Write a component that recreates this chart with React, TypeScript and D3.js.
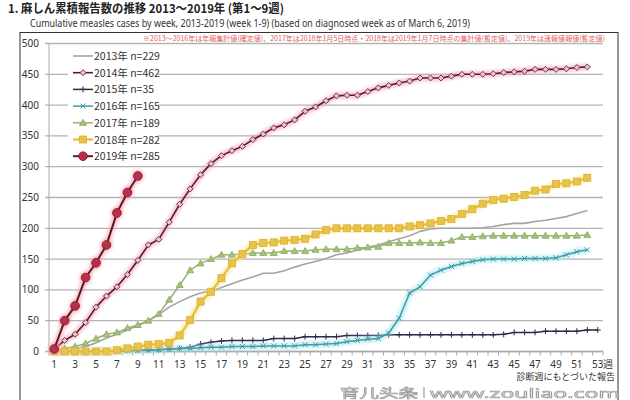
import React from "react";
import * as d3 from "d3";

const weeks52 = d3.range(1, 53);
const weeks53 = d3.range(1, 54);
const weeks9 = d3.range(1, 10);

const y2013 = [0,2,4,8,14,22,28,35,42,50,60,72,81,89,95,98,104,110,116,121,127,127,131,137,142,146,151,157,160,165,169,173,178,183,188,195,199,200,200,200,200,201,203,206,208,208,211,213,216,219,224,229];
const y2014 = [4,18,28,47,72,90,105,125,148,173,182,210,239,264,287,305,318,326,333,344,353,363,368,376,390,397,407,415,416,416,422,428,432,436,439,444,444,444,447,450,450,450,451,453,454,455,458,458,458,459,461,462];
const y2015 = [0,0,0,0,0,1,1,2,2,3,3,4,5,7,12,15,17,18,18,18,18,21,21,21,24,24,24,24,26,26,26,26,27,27,27,27,27,27,27,27,27,27,27,28,31,31,31,33,33,33,33,35,35];
const y2016 = [0,0,0,0,1,1,1,1,2,2,3,4,5,5,6,7,7,8,8,8,9,9,9,9,11,11,12,13,16,18,20,21,30,54,95,105,124,132,138,143,146,149,150,150,150,151,151,151,152,157,162,165];
const y2017 = [0,5,8,13,21,28,31,38,43,50,61,84,108,132,143,150,157,157,158,160,160,160,163,163,163,165,166,166,166,168,169,170,176,176,176,177,176,176,180,186,186,187,188,188,188,188,188,188,188,188,188,189];
const y2018 = [0,0,0,0,0,0,2,5,8,11,12,14,26,51,81,97,119,143,158,173,176,177,180,181,183,190,197,200,200,200,200,200,200,200,203,205,208,212,215,223,231,240,246,248,251,254,261,263,272,273,276,282];
const y2019 = [4,50,74,120,144,173,225,258,285];

const legendLabels = ["2013年 n=229","2014年 n=462","2015年 n=35","2016年 n=165","2017年 n=189","2018年 n=282","2019年 n=285"];
const yTicks = [0,50,100,150,200,250,300,350,400,450,500];
const xTickLabels = d3.range(1, 54, 2);

const titleText = "1. 麻しん累積報告数の推移  2013～2019年 (第1～9週)";
const subtitleText = "Cumulative measles cases by week, 2013-2019 (week 1-9)  (based on diagnosed week as of March 6, 2019)";
const noteText = "※2013～2016年は年報集計値(確定値)、2017年は2018年1月5日時点・2018年は2019年1月7日時点の集計値(暫定値)、2019年は速報値報値(暫定値)";
const footText = "診断週にもとづいた報告";
const weekUnit = "週";
const watermarkCn = "育儿头条";
const watermarkUrl = "www.zouliao.com";

const W = 630, H = 400;
const x = d3.scaleLinear().domain([0.5, 53.5]).range([49, 603]);
const y = d3.scaleLinear().domain([0, 500]).range([351.5, 43.5]);

type S = { key: string; weeks: number[]; vals: number[]; color: string; width: number; glow?: string; marker: string; mfill: string; mstroke: string };

const series: S[] = [
  { key: "2013", weeks: weeks52, vals: y2013, color: "#a3a3a3", width: 1.6, marker: "none", mfill: "", mstroke: "" },
  { key: "2014", weeks: weeks52, vals: y2014, color: "#5a1b2c", width: 1.6, glow: "#f2a0b4", marker: "diamond", mfill: "#ecc4cc", mstroke: "#6a2436" },
  { key: "2015", weeks: weeks53, vals: y2015, color: "#2e2a4c", width: 1.5, marker: "plus", mfill: "none", mstroke: "#2e2a4c" },
  { key: "2016", weeks: weeks52, vals: y2016, color: "#3a9ea8", width: 1.5, glow: "#a8e4ec", marker: "x", mfill: "none", mstroke: "#3a9ea8" },
  { key: "2017", weeks: weeks52, vals: y2017, color: "#96b46a", width: 1.5, marker: "triangle", mfill: "#a8c07c", mstroke: "#8aa860" },
  { key: "2018", weeks: weeks52, vals: y2018, color: "#e6bf3a", width: 2.2, glow: "#f8e07a", marker: "square", mfill: "#e8c24a", mstroke: "#dcb030" },
  { key: "2019", weeks: weeks9, vals: y2019, color: "#5e1a22", width: 2, glow: "#f5a0b0", marker: "circle", mfill: "#b82f48", mstroke: "#8e1f34" },
];

function Marker({ s, cx, cy }: { s: S; cx: number; cy: number }) {
  switch (s.marker) {
    case "diamond":
      return <path d={`M${cx},${cy - 3}L${cx + 3},${cy}L${cx},${cy + 3}L${cx - 3},${cy}Z`} fill={s.mfill} stroke={s.mstroke} strokeWidth={0.9} />;
    case "plus":
      return <path d={`M${cx - 3},${cy}H${cx + 3}M${cx},${cy - 3}V${cy + 3}`} stroke={s.mstroke} strokeWidth={1} />;
    case "x":
      return <path d={`M${cx - 2.5},${cy - 2.5}L${cx + 2.5},${cy + 2.5}M${cx - 2.5},${cy + 2.5}L${cx + 2.5},${cy - 2.5}`} stroke={s.mstroke} strokeWidth={1} />;
    case "triangle":
      return <path d={`M${cx},${cy - 3.5}L${cx + 3.5},${cy + 2.5}L${cx - 3.5},${cy + 2.5}Z`} fill={s.mfill} stroke={s.mstroke} strokeWidth={0.8} />;
    case "square":
      return <rect x={cx - 3.5} y={cy - 3.5} width={7} height={7} fill={s.mfill} stroke={s.mstroke} strokeWidth={0.8} />;
    case "circle":
      return <circle cx={cx} cy={cy} r={4.3} fill={s.mfill} stroke={s.mstroke} strokeWidth={1} />;
    default:
      return null;
  }
}

function Series({ s }: { s: S }) {
  const line = d3.line<number>().x((_, i) => x(s.weeks[i])).y((v) => y(v));
  const d = line(s.vals) || "";
  return (
    <g>
      {s.glow && <path d={d} fill="none" stroke={s.glow} strokeWidth={7} strokeOpacity={0.55} filter="url(#blur)" strokeLinejoin="round" />}
      {s.glow && s.marker === "circle" && s.vals.map((v, i) => <circle key={i} cx={x(s.weeks[i])} cy={y(v)} r={6.5} fill={s.glow} opacity={0.6} filter="url(#blur)" />)}
      <path d={d} fill="none" stroke={s.color} strokeWidth={s.width} strokeLinejoin="round" />
      {s.marker !== "none" && s.vals.map((v, i) => <Marker key={i} s={s} cx={x(s.weeks[i])} cy={y(v)} />)}
    </g>
  );
}

function LegendSymbol({ s, cy }: { s: S; cy: number }) {
  return (
    <g>
      {s.glow && <path d={`M73,${cy}H93`} stroke={s.glow} strokeWidth={7} strokeOpacity={0.55} filter="url(#blur)" />}
      <path d={`M73,${cy}H93`} stroke={s.color} strokeWidth={s.width} />
      {s.marker !== "none" && <Marker s={s} cx={83} cy={cy} />}
    </g>
  );
}

export default function App() {
  const font = "'Noto Sans', 'Noto Sans CJK JP', sans-serif";
  const jp = "'Noto Sans CJK JP', sans-serif";
  return (
    <svg width={W} height={H} style={{ position: "absolute", left: 0, top: 0, background: "#fff" }} fontFamily={font}>
      <defs>
        <filter id="blur" x="-20%" y="-20%" width="140%" height="140%">
          <feGaussianBlur stdDeviation={1.6} />
        </filter>
      </defs>
      <rect x={0} y={0} width={W} height={H} fill="#fff" />
      <text x={8} y={13} fontFamily={jp} fontWeight={700} fontSize={12} fill="#222" textLength={276} lengthAdjust="spacingAndGlyphs">{titleText}</text>
      <text x={30} y={26.5} fontFamily={font} fontSize={10} fill="#333" textLength={440} lengthAdjust="spacingAndGlyphs">{subtitleText}</text>
      <rect x={20} y={32.5} width={598} height={370} fill="none" stroke="#333" strokeWidth={1} />
      <text x={143} y={40.5} fontFamily={jp} fontSize={7} fill="#e06060" textLength={462} lengthAdjust="spacingAndGlyphs">{noteText}</text>

      {yTicks.map((t) => (
        <g key={t}>
          <line x1={45} x2={603} y1={y(t)} y2={y(t)} stroke="#b4b4b4" strokeWidth={1.3} />
          <text x={39} y={y(t) + 3.5} textAnchor="end" fontSize={10} fill="#333">{t}</text>
        </g>
      ))}
      <line x1={49} x2={49} y1={y(500)} y2={y(0)} stroke="#aaa" strokeWidth={1} />
      <line x1={49} x2={603} y1={y(0)} y2={y(0)} stroke="#aaa" strokeWidth={1.3} />
      {d3.range(0, 54).map((i) => (
        <line key={i} x1={x(i + 0.5)} x2={x(i + 0.5)} y1={y(0)} y2={y(0) + 4} stroke="#aaa" strokeWidth={1} />
      ))}
      {xTickLabels.map((w) => (
        <text key={w} x={x(w)} y={368} textAnchor="middle" fontSize={10} fill="#333">{w}</text>
      ))}
      <text x={603} y={368} fontFamily={jp} fontSize={10} fill="#333">{weekUnit}</text>
      <text x={615} y={380} textAnchor="end" fontFamily={jp} fontSize={9} fill="#333">{footText}</text>

      <rect x={68} y={46} width={90} height={117} fill="#fff" />
      {series.map((s) => <Series key={s.key} s={s} />)}

      {series.map((s, i) => (
        <g key={s.key}>
          <LegendSymbol s={s} cy={56 + i * 16.7} />
          <text x={94} y={56 + i * 16.7 + 4} fontFamily={jp} fontSize={10.5} fill="#333">{legendLabels[i]}</text>
        </g>
      ))}

      <g opacity={0.85}>
        <text x={340} y={397.5} fontFamily={jp} fontSize={12.5} fill="#fff" stroke="#8a8a8a" strokeWidth={0.7} textLength={78} lengthAdjust="spacingAndGlyphs">{watermarkCn}</text>
        <line x1={424} x2={424} y1={387} y2={398} stroke="#888" strokeWidth={1.2} />
        <text x={430} y={397.5} fontFamily={font} fontSize={12.5} fill="#fff" stroke="#8a8a8a" strokeWidth={0.7} textLength={190} lengthAdjust="spacingAndGlyphs">{watermarkUrl}</text>
      </g>
    </svg>
  );
}
